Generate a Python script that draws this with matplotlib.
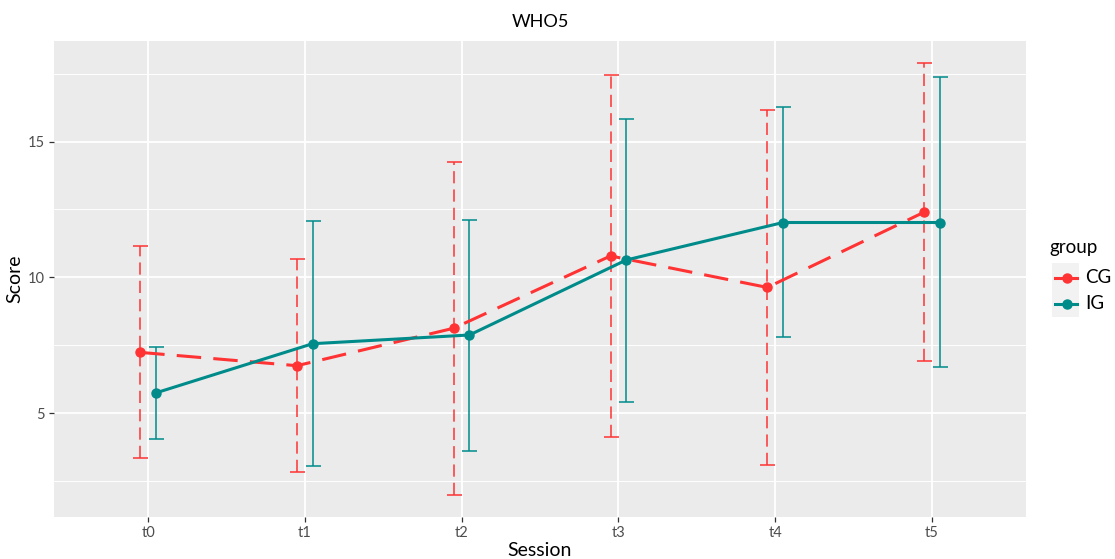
import matplotlib
matplotlib.use("Agg")
import matplotlib.pyplot as plt
from matplotlib.lines import Line2D
from matplotlib.patches import Rectangle
import numpy as np

plt.rcParams['font.family'] = ['Lato', 'DejaVu Sans']

sessions = ["t0", "t1", "t2", "t3", "t4", "t5"]
groups = ["CG", "IG"]

cg_mean = [7.24, 6.75, 8.13, 10.79, 9.63, 12.40]
cg_upper = [11.16, 10.67, 14.25, 17.44, 16.17, 17.90]
cg_lower = [3.35, 2.83, 2.00, 4.12, 3.09, 6.91]

ig_mean = [5.75, 7.56, 7.88, 10.64, 12.02, 12.02]
ig_upper = [7.42, 12.08, 12.11, 15.82, 16.27, 17.37]
ig_lower = [4.07, 3.05, 3.62, 5.43, 7.79, 6.69]

cg_color = "#FF3333"
ig_color = "#008B8B"

W, H = 1115, 559
fig = plt.figure(figsize=(W / 100, H / 100), dpi=100)
fig.patch.set_facecolor("white")
ax = fig.add_axes([54 / W, (H - 516.5) / H, (1026 - 54) / W, (516.5 - 41) / H])
ax.set_facecolor("#EBEBEB")

x = np.arange(len(sessions))
dodge = 0.05

def draw(means, lo, hi, color, offset, dashed):
    xs = x + offset
    ls_kw = dict(dashes=(8, 4)) if dashed else dict(linestyle="-")
    ax.plot(xs, means, color=color, lw=2.2, zorder=4, solid_capstyle="butt", **ls_kw)
    m = np.array(means)
    yerr = np.vstack([m - np.array(lo), np.array(hi) - m])
    eb = ax.errorbar(xs, means, yerr=yerr, fmt="none", ecolor=color, elinewidth=1.1,
                     capsize=5.4, capthick=1.1, zorder=3)
    if dashed:
        for lc in eb[2]:
            lc.set_dashes([(0, (8, 4))])
    ax.plot(xs, means, "o", color=color, ms=6.5, zorder=5)

draw(cg_mean, cg_lower, cg_upper, cg_color, -dodge, True)
draw(ig_mean, ig_lower, ig_upper, ig_color, dodge, False)

ax.set_xlim(-0.6, len(sessions) - 1 + 0.6)
ax.set_ylim(1.20, 18.70)
ax.set_xticks(x)
ax.set_xticklabels(sessions)
ax.set_yticks([5, 10, 15])
ax.set_yticks([2.5, 7.5, 12.5, 17.5], minor=True)
ax.grid(which="major", color="white", lw=1.3)
ax.grid(which="minor", axis="y", color="white", lw=0.7)
ax.set_axisbelow(True)
for s in ax.spines.values():
    s.set_visible(False)
ax.tick_params(which="major", length=3.5, width=0.9, color="#333333",
               labelcolor="#4D4D4D", labelsize=10.5, pad=3)
ax.tick_params(which="minor", length=0)

ax.set_xlabel("Session", fontsize=14, color="black", labelpad=2)
ax.set_ylabel("Score", fontsize=14, color="black", labelpad=3)
ax.set_title("WHO5", fontsize=13, color="black", pad=10)

# legend (drawn in figure pixel coordinates)
def fx(px):
    return px / W

def fy(py):
    return 1 - py / H

fig.text(fx(1049), fy(248), "group", fontsize=13.5, color="black", va="center", ha="left")
fig.add_artist(Rectangle((fx(1051.5), fy(317)), 27.5 / W, 54 / H, transform=fig.transFigure,
                         facecolor="#F2F2F2", edgecolor="none", zorder=0))
for label, color, yy in ((groups[0], cg_color, 277.5), (groups[1], ig_color, 303.5)):
    fig.add_artist(Line2D([fx(1055), fx(1077)], [fy(yy), fy(yy)], color=color, lw=2.2,
                          transform=fig.transFigure))
    fig.add_artist(Line2D([fx(1066.5)], [fy(yy)], color=color, marker="o", ms=6.5,
                          transform=fig.transFigure))
    fig.text(fx(1085), fy(yy), label, fontsize=13.5, color="black", va="center", ha="left")

fig.savefig("out.png", dpi=100)
